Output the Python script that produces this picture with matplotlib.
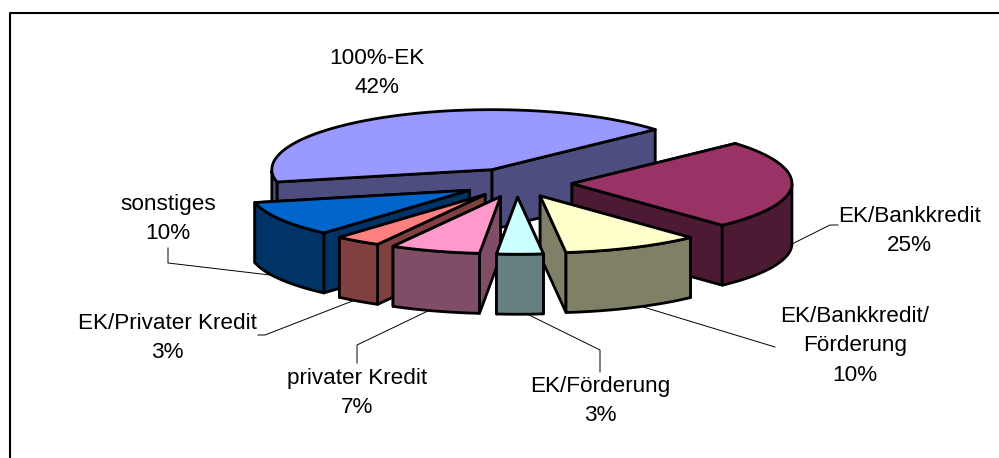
import numpy as np
import matplotlib
matplotlib.use("Agg")
import matplotlib.pyplot as plt

labels = ["100%-EK", "EK/Bankkredit", "EK/Bankkredit/\nFörderung", "EK/Förderung",
          "privater Kredit", "EK/Privater Kredit", "sonstiges"]
shares = [41.8, 24.7, 10.1, 3.4, 6.6, 3.4, 10.0]
top_colors = ["#9999FF", "#993366", "#FFFFCC", "#CCFFFF", "#FF99CC", "#FF8080", "#0066CC"]
side_colors = ["#4D4D80", "#4D1A33", "#808066", "#668080", "#804D66", "#804040", "#003366"]

# label centres and leader lines, in image pixels
label_pos = [(377, 73), (909, 231), (855, 346), (600, 401), (357, 393), (167, 338), (168, 219)]
leaders = [None,
           [(790, 245), (830, 225), (838, 225)],
           [(640, 306), (775, 347)],
           [(525, 313), (600, 350), (600, 372)],
           [(430, 310), (357, 345), (357, 363)],
           [(355, 300), (265, 335), (258, 335)],
           [(270, 275), (168, 263), (168, 248)]]

# pie geometry
cx, cy = 517, 183
rx = 220
ry_back, ry_front = 60, 57  # the near half looks a bit flatter in the original
depth = 60
explode = 0.25
start_angle = 192.5
edge_w = 2.0

plt.rcParams['font.family'] = ['Liberation Sans', 'DejaVu Sans']

fig = plt.figure(figsize=(9.99, 4.58), dpi=100)
ax = fig.add_axes([0, 0, 1, 1])
ax.set_xlim(0, 999)
ax.set_ylim(458, 0)
ax.axis('off')

# chart frame, runs off the right and bottom of the picture
ax.plot([10, 10, 1005], [470, 12.5, 12.5], color='black', lw=1.5, zorder=1)


def rim(ox, oy, angles):
    a = np.radians(angles)
    s = np.sin(a)
    return ox + rx * np.cos(a), oy - np.where(s > 0, ry_back, ry_front) * s


def draw_slice(a0, a1, top, side, z):
    # a0 > a1, angles run clockwise
    mid = (a0 + a1) / 2
    mx, my = rim(0, 0, mid)
    ox = cx + explode * mx
    oy = cy + explode * my
    style = dict(edgecolor='black', linewidth=edge_w, joinstyle='round', zorder=z)

    # cut faces, the one further back first
    cuts = sorted([a0, a1], key=lambda a: rim(ox, oy, a)[1])
    for a in cuts:
        x, y = rim(ox, oy, a)
        ax.fill([ox, x, x, ox], [oy, y, y + depth, oy + depth], facecolor=side, **style)

    # outer wall, only the part facing the viewer
    angles = np.linspace(a0, a1, 120)
    front = angles[np.sin(np.radians(angles)) <= 0]
    if len(front) > 1:
        x, y = rim(ox, oy, front)
        ax.fill(np.r_[x, x[::-1]], np.r_[y, y[::-1] + depth], facecolor=side, **style)

    # top face
    x, y = rim(ox, oy, angles)
    ax.fill(np.r_[ox, x], np.r_[oy, y], facecolor=top, **style)


edges = start_angle - 3.6 * np.cumsum([0] + shares)
mids = (edges[:-1] + edges[1:]) / 2
order = np.argsort(-np.sin(np.radians(mids)))
for rank, i in enumerate(order):
    draw_slice(edges[i], edges[i + 1], top_colors[i], side_colors[i], 3 + rank)

for i, name in enumerate(labels):
    if leaders[i]:
        xs, ys = zip(*leaders[i])
        ax.plot(xs, ys, color='black', lw=0.7, zorder=2)
    ax.text(label_pos[i][0], label_pos[i][1], f"{name}\n{shares[i]:.0f}%", ha='center', va='center',
            fontsize=16.2, linespacing=1.52, color='black', zorder=20)

fig.savefig("out.png", dpi=100, facecolor='white')
